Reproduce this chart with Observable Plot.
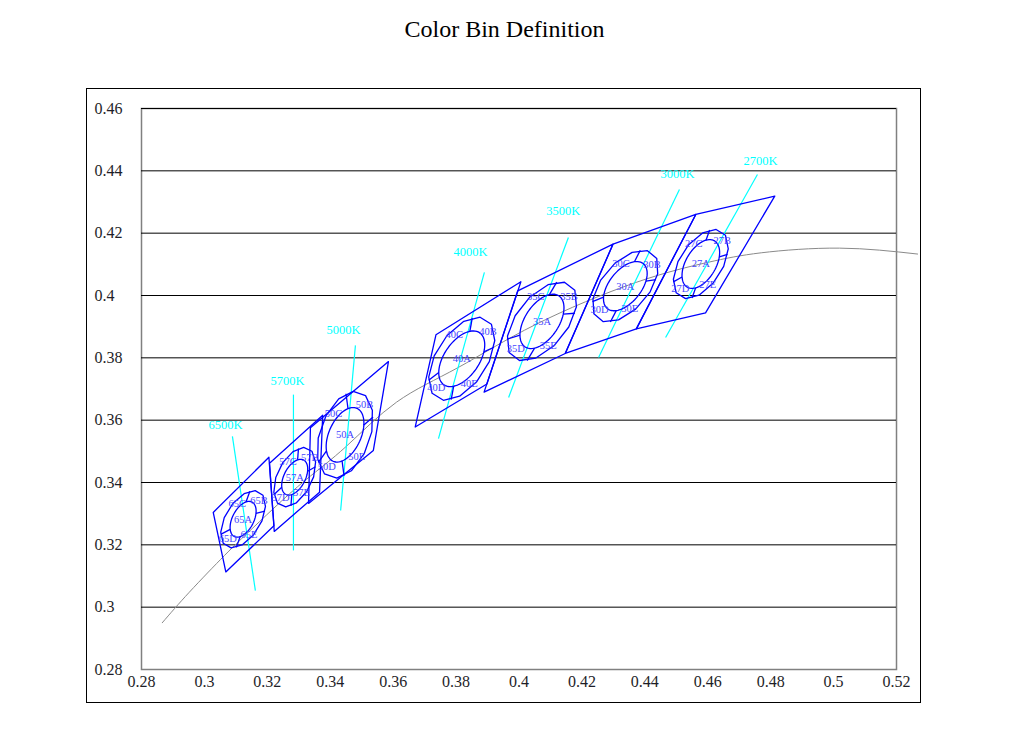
<!DOCTYPE html>
<html><head><meta charset="utf-8">
<script src="https://cdn.jsdelivr.net/npm/d3@7"></script>
<script src="https://cdn.jsdelivr.net/npm/@observablehq/plot@0.6"></script>
<style>
body{margin:0;background:#fff;}
#title{height:88px;width:1009px;text-align:center;font-family:"Liberation Serif",serif;font-size:24px;line-height:58px;color:#000;}
#chart svg{display:block;margin-left:86px;outline:1px solid #000;outline-offset:-1px;overflow:visible;}
</style></head><body>
<div id="title">Color Bin Definition</div>
<div id="chart"></div>
<script>
// ---- axis ticks ----
const xTicks = [0.28,0.30,0.32,0.34,0.36,0.38,0.40,0.42,0.44,0.46,0.48,0.50,0.52];
const xTickLabels = ["0.28","0.3","0.32","0.34","0.36","0.38","0.4","0.42","0.44","0.46","0.48","0.5","0.52"];
const yTicks = [0.28,0.30,0.32,0.34,0.36,0.38,0.40,0.42,0.44,0.46];
const yTickLabels = ["0.28","0.3","0.32","0.34","0.36","0.38","0.4","0.42","0.44","0.46"];

// ---- Planckian locus ----
const locusX = [0.2866,0.2952,0.3064,0.3135,0.3221,0.3324,0.3451,0.3611,0.3805,0.4053,0.4369,0.4599,0.4770,0.5019,0.5267];
const locusY = [0.2950,0.3048,0.3166,0.3236,0.3318,0.3410,0.3516,0.3658,0.3768,0.3907,0.4041,0.4106,0.4137,0.4152,0.4133];

// ---- bins ----
const binNames = ["65","57","50","40","35","30","27"];
const centerX = [0.3123,0.3287,0.3447,0.3818,0.4073,0.4338,0.4578];
const centerY = [0.3282,0.3417,0.3553,0.3797,0.3917,0.4030,0.4101];
// quadrangle corners: top-right, top-left, bottom-left, bottom-right
const quadX = [
  [0.3205,0.3028,0.3068,0.3221],
  [0.3376,0.3207,0.3222,0.3366],
  [0.3585,0.3337,0.3331,0.3537],
  [0.4006,0.3736,0.3670,0.3898],
  [0.4299,0.3996,0.3889,0.4147],
  [0.4562,0.4299,0.4147,0.4373],
  [0.4813,0.4562,0.4373,0.4593]];
const quadY = [
  [0.3481,0.3304,0.3113,0.3261],
  [0.3616,0.3462,0.3243,0.3369],
  [0.3788,0.3576,0.3333,0.3503],
  [0.4044,0.3874,0.3578,0.3716],
  [0.4165,0.4015,0.3690,0.3814],
  [0.4260,0.4165,0.3814,0.3893],
  [0.4319,0.4260,0.3893,0.3944]];
const outerA = [0.0102,0.0102,0.0145,0.0149,0.0148,0.0137,0.0124];
const outerB = [0.0056,0.0056,0.0080,0.0082,0.0081,0.0075,0.0068];
const outerAngle = [59,65,71,58,52,50,58];
const innerA = [0.0062,0.0062,0.0093,0.0101,0.0098,0.0092,0.0086];
const innerB = [0.0034,0.0034,0.0051,0.0056,0.0054,0.0051,0.0048];
const innerAngle = [63,63,66,56,57,52,60];
const subBins = ["B","C","D","E"];
const subBinAngle = [340,65,165,245];
const dividerAngle = [30,140,210,305];

// ---- isotherm lines ----
const cctLabels = ["6500K","5700K","5000K","4000K","3500K","3000K","2700K"];
const isoX1 = [0.3089,0.3283,0.3480,0.3890,0.4157,0.4510,0.4758];
const isoY1 = [0.3548,0.3682,0.3840,0.4074,0.4186,0.4340,0.4388];
const isoX2 = [0.3162,0.3283,0.3433,0.3744,0.3967,0.4253,0.4466];
const isoY2 = [0.3053,0.3182,0.3310,0.3541,0.3673,0.3801,0.3865];
const isoLabelX = [0.3067,0.3264,0.3442,0.3846,0.4141,0.4504,0.4768];
const isoLabelY = [0.3586,0.3727,0.3888,0.4141,0.4270,0.4391,0.4430];

// ---- build tables ----
const rad = d => d * Math.PI / 180;
function ellPt(i, a, b, th, tDeg) {
  const t = rad(tDeg), r = rad(th);
  return [centerX[i] + a*Math.cos(t)*Math.cos(r) - b*Math.sin(t)*Math.sin(r),
          centerY[i] + a*Math.cos(t)*Math.sin(r) + b*Math.sin(t)*Math.cos(r)];
}
const locus = locusX.map((x,i)=>({x, y: locusY[i]}));
const shapes = [];
const dividers = [];
const labels = [];
binNames.forEach((n,i)=>{
  for (let k=0;k<=4;k++) shapes.push({id:"q"+n, x: quadX[i][k%4], y: quadY[i][k%4]});
  for (let k=0;k<=12;k++){ const p = ellPt(i,outerA[i],outerB[i],outerAngle[i],15+k*30); shapes.push({id:"o"+n,x:p[0],y:p[1]}); }
  for (let k=0;k<=72;k++){ const p = ellPt(i,innerA[i],innerB[i],innerAngle[i],k*5); shapes.push({id:"i"+n,x:p[0],y:p[1]}); }
  dividerAngle.forEach(t=>{
    const p1 = ellPt(i,innerA[i],innerB[i],innerAngle[i],t);
    const p2 = ellPt(i,outerA[i],outerB[i],outerAngle[i],t);
    dividers.push({x1:p1[0],y1:p1[1],x2:p2[0],y2:p2[1]});
  });
  labels.push({x:centerX[i], y:centerY[i], t:n+"A"});
  subBins.forEach((s,j)=>{
    const p = ellPt(i,(innerA[i]+outerA[i])/2,(innerB[i]+outerB[i])/2,(innerAngle[i]+outerAngle[i])/2,subBinAngle[j]);
    labels.push({x:p[0], y:p[1], t:n+s});
  });
});
const iso = cctLabels.map((t,i)=>({t, x1:isoX1[i], y1:isoY1[i], x2:isoX2[i], y2:isoY2[i], lx:isoLabelX[i], ly:isoLabelY[i]}));

const font = "'Liberation Serif', serif";
const chart = Plot.plot({
  width: 835, height: 615,
  marginLeft: 55, marginRight: 25, marginTop: 20, marginBottom: 34,
  style: {fontFamily: font, background: "white", overflow: "visible"},
  x: {domain: [0.28, 0.52], axis: null},
  y: {domain: [0.28, 0.46], axis: null},
  marks: [
    Plot.frame({stroke: "#808080", strokeWidth: 1.5}),
    Plot.ruleY(yTicks.slice(1), {stroke: "#000", strokeWidth: 1}),
    Plot.line(locus, {x: "x", y: "y", curve: "natural", stroke: "#8a8a8a", strokeWidth: 1}),
    Plot.link(iso, {x1: "x1", y1: "y1", x2: "x2", y2: "y2", stroke: "#00ffff", strokeWidth: 1.2}),
    Plot.text(iso, {x: "lx", y: "ly", text: "t", fill: "#00ffff", fontSize: 12.5}),
    Plot.line(shapes, {x: "x", y: "y", z: "id", stroke: "#0000ff", strokeWidth: 1.3, curve: "linear"}),
    Plot.link(dividers, {x1: "x1", y1: "y1", x2: "x2", y2: "y2", stroke: "#0000ff", strokeWidth: 1.3}),
    Plot.text(labels, {x: "x", y: "y", text: "t", fill: "#4646ff", fontSize: 10.5}),
    Plot.text(yTicks, {y: d => d, text: (d,i) => yTickLabels[i], frameAnchor: "left", textAnchor: "start", dx: -47, fontSize: 16, fill: "#1e1e28", letterSpacing: 1.5}),
    Plot.text(xTicks, {x: d => d, text: (d,i) => xTickLabels[i], frameAnchor: "bottom", dy: 17, fontSize: 16, fill: "#1e1e28", letterSpacing: 1.5})
  ]
});
document.getElementById("chart").appendChild(chart);
</script>
</body></html>
